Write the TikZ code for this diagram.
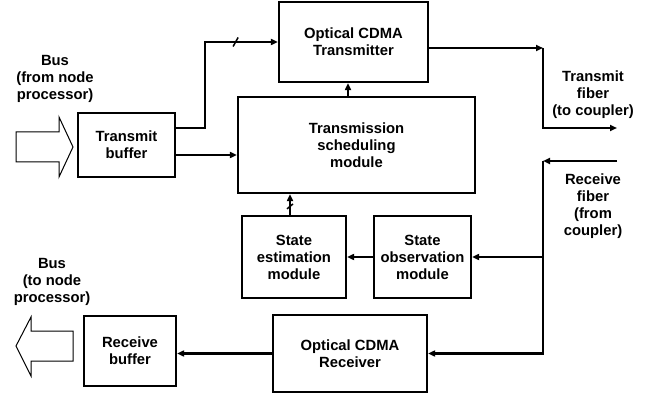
\documentclass[tikz,border=0pt]{standalone}
\usepackage{fontspec}
\setmainfont{Liberation Sans}
\usetikzlibrary{arrows.meta,calc}

\begin{document}
\begin{tikzpicture}[x=1pt, y=-1pt, line width=2.2pt,
    >={Triangle[length=7pt,width=6pt]},
    font=\fontsize{14.8}{17}\selectfont\bfseries,
    blk/.style={draw, align=center, inner sep=0pt},
    lbl/.style={align=center, inner sep=0pt},
    fat/.style={line width=1pt}]
    \useasboundingbox (0,0) rectangle (650,398);

    % Blocks
    \node[blk, minimum width=97pt, minimum height=64pt] (tb) at (126.5,145) {Transmit\\buffer};
    \node[blk, minimum width=149pt, minimum height=80pt] (tx) at (353.5,42) {Optical CDMA\\Transmitter};
    \node[blk, minimum width=237pt, minimum height=96pt] (sched) at (356.5,145) {Transmission\\scheduling\\module};
    \node[blk, minimum width=104pt, minimum height=82pt] (est) at (294,257) {State\\estimation\\module};
    \node[blk, minimum width=97pt, minimum height=82pt] (obs) at (422.5,257) {State\\observation\\module};
    \node[blk, minimum width=154pt, minimum height=77pt] (rx) at (350,353.5) {Optical CDMA\\Receiver};
    \node[blk, minimum width=92pt, minimum height=70pt] (rb) at (130,351) {Receive\\buffer};

    % Labels
    \node[lbl] (busin) at (55,79) {Bus\\(from node\\processor)};
    \node[lbl] (busout) at (52,282) {Bus\\(to node\\processor)};
    \node[lbl] (txf) at (593,95) {Transmit\\fiber\\(to coupler)};
    \node[lbl] (rxf) at (593,206.5) {Receive\\fiber\\(from\\coupler)};

    % Bus block arrows
    \draw[fat] (16,132) -- (59,132) -- (59,117) -- (73,147) -- (59,177) -- (59,162) -- (16,162) -- cycle;
    \draw[fat] (73,331) -- (31,331) -- (31,317) -- (16,346) -- (31,376) -- (31,361) -- (73,361) -- cycle;

    % Transmit side
    \draw[->] ([yshift=17pt]tb.east) -- ++(29,0) coordinate (tbk) |- (tx.west);
    \draw[line width=1.5pt] ($(tbk |- tx.west)+(28,4.5)$) -- ++(5,-9);
    \draw[->] ([yshift=-10pt]tb.east) -- ([yshift=-10pt]sched.west);
    \draw[->] ([xshift=-8.5pt]sched.north) -- ([xshift=-8.5pt]sched.north |- tx.south);
    \coordinate (txc) at (543,48);
    \coordinate (txend) at (617,128);
    \draw[->] ([yshift=-6pt]tx.east) -- (txc);
    \draw[->] (txc) |- (txend);

    % Receive side
    \coordinate (rxin) at (617,161);
    \coordinate (rxc) at (543,161);
    \draw[->] (rxin) -- (rxc);
    \draw[->] (rxc) |- (rx.east);
    \draw[->] (obs.east -| rxc) -- (obs.east);
    \draw[->] (obs.west) -- (est.east);
    \draw[->] ([xshift=-4pt]est.north) -- ([xshift=-4pt]est.north |- sched.south);
    \draw[line width=1.5pt] ($([xshift=-4pt]est.north)+(-3,-6)$) -- ++(6,-5);
    \draw[->] (rx.west) -- (rx.west -| rb.east);
\end{tikzpicture}
\end{document}
